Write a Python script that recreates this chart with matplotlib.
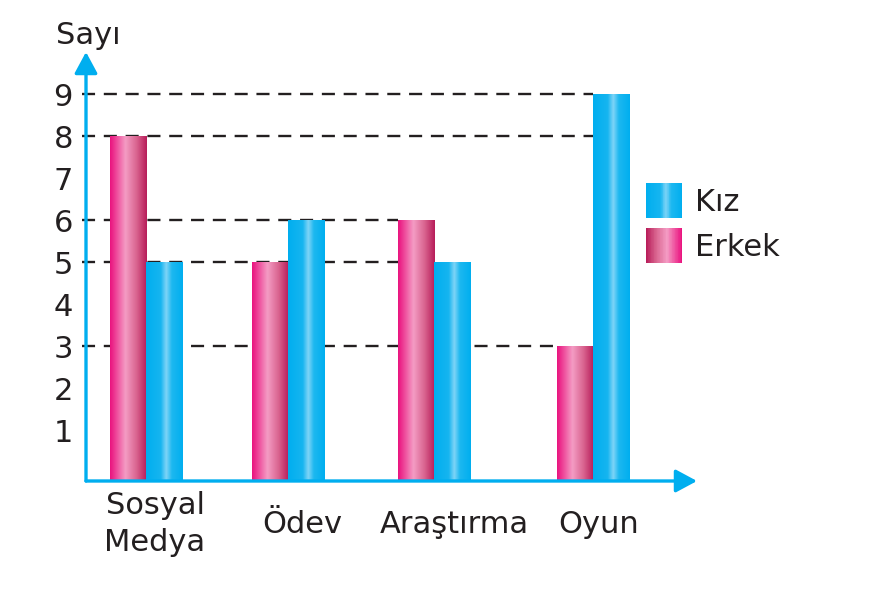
import numpy as np
import matplotlib
matplotlib.use('Agg')
import matplotlib.pyplot as plt
from matplotlib.colors import LinearSegmentedColormap
from matplotlib.patches import Rectangle, Patch, FancyArrowPatch
from matplotlib.legend_handler import HandlerBase

# ---------------- data ----------------
categories = ['Sosyal\nMedya', 'Ödev', 'Araştırma', 'Oyun']
erkek = [8, 5, 6, 3]
kiz = [5, 6, 5, 9]
yticks = [1, 2, 3, 4, 5, 6, 7, 8, 9]
series_names = ['Kız', 'Erkek']
y_label = 'Sayı'

# dashed guide lines: level -> (category index, series) whose left edge ends the line
guide_levels = [9, 8, 6, 5, 3]
guide_targets = [(3, 'kiz'), (3, 'kiz'), (2, 'erkek'), (2, 'kiz'), (3, 'erkek')]

# ---------------- layout ----------------
group_pos = np.array([0.0, 0.97, 1.97, 3.06])
label_shift = np.array([0.062, 0.098, 0.14, 0.043])
bar_w = 0.247
xlim = (-0.411, 3.774)
ylim = (-0.214, 10.0)

plt.rcParams['font.family'] = ['DejaVu Sans']
plt.rcParams['lines.scale_dashes'] = False
TXT = '#231f20'
AXC = '#00aeef'
FS = 22

pink_cmap = LinearSegmentedColormap.from_list('pink', [
    (0.0, '#e9137f'), (0.08, '#ec2a8b'), (0.42, '#f49cc4'),
    (0.72, '#d9648f'), (1.0, '#b71c59')])
pink_cmap_r = pink_cmap.reversed()
blue_cmap = LinearSegmentedColormap.from_list('blue', [
    (0.0, '#00aeef'), (0.40, '#16b5f0'), (0.55, '#7fd4f7'),
    (0.70, '#1db8f0'), (1.0, '#00aeef')])

fig = plt.figure(figsize=(8.79, 5.90), dpi=100)
ax = fig.add_axes([86 / 879, (590 - 481) / 590, (697 - 86) / 879, (481 - 52) / 590])

# bars (outline containers) + gradient fills
b0 = ylim[0]
bars_e = ax.bar(group_pos - bar_w / 2, np.array(erkek) - b0, bottom=b0, width=bar_w,
                facecolor='none', edgecolor='none', zorder=2)
bars_k = ax.bar(group_pos + bar_w / 2, np.array(kiz) - b0, bottom=b0, width=bar_w,
                facecolor='none', edgecolor='none', zorder=2)
grad = np.linspace(0, 1, 256).reshape(1, -1)
for bars, cmap in [(bars_e, pink_cmap), (bars_k, blue_cmap)]:
    for r in bars:
        x0, y0 = r.get_x(), r.get_y()
        ax.imshow(grad, cmap=cmap, extent=[x0, x0 + r.get_width(), y0, y0 + r.get_height()],
                  aspect='auto', interpolation='bilinear', zorder=2)

# dashed guides
x_start = -0.438
for lvl, (gi, s) in zip(guide_levels, guide_targets):
    rect = bars_k[gi] if s == 'kiz' else bars_e[gi]
    ax.plot([x_start, rect.get_x()], [lvl, lvl], color=TXT, lw=1.7,
            dashes=(9.4, 6.3), zorder=1, clip_on=False, solid_capstyle='butt')

ax.set_xlim(*xlim)
ax.set_ylim(*ylim)

for s in ax.spines.values():
    s.set_visible(False)

# axis arrows
for p0, p1 in [((0, 0), (1, 0)), ((0, 0), (0, 1))]:
    ar = FancyArrowPatch(p0, p1, transform=ax.transAxes,
                         arrowstyle='-|>,head_length=13,head_width=7',
                         mutation_scale=1, lw=2.4, color=AXC,
                         shrinkA=0, shrinkB=0, clip_on=False, zorder=5)
    ax.add_artist(ar)

# ticks
ax.set_yticks(yticks)
ax.set_yticklabels([str(v) for v in yticks])
ax.tick_params(axis='y', length=0, pad=9.4, labelsize=FS, labelcolor=TXT)
ax.set_xticks(group_pos + label_shift)
ax.set_xticklabels(categories)
ax.tick_params(axis='x', length=0, pad=31, labelsize=FS, labelcolor=TXT)
for lab in ax.get_xticklabels():
    lab.set_va('center')
    lab.set_multialignment('center')
    lab.set_linespacing(1.36)

fig.text(56 / 879, 1 - 44 / 590, y_label, fontsize=FS, color=TXT, ha='left', va='baseline')


class GradHandler(HandlerBase):
    def __init__(self, cmap, n=48):
        super().__init__()
        self.cmap = cmap
        self.n = n

    def create_artists(self, legend, orig_handle, xdescent, ydescent, width, height,
                       fontsize, trans):
        arts = []
        for i in range(self.n):
            c = self.cmap((i + 0.5) / self.n)
            arts.append(Rectangle((-xdescent + width * i / self.n, -ydescent),
                                  width / self.n * 1.1, height, facecolor=c,
                                  edgecolor='none', transform=trans))
        return arts


h_k = Patch(label=series_names[0])
h_e = Patch(label=series_names[1])
ax.legend(handles=[h_k, h_e], handler_map={h_k: GradHandler(blue_cmap), h_e: GradHandler(pink_cmap_r)},
          loc='upper left', bbox_to_anchor=(646 / 879, 1 - 183 / 590),
          bbox_transform=fig.transFigure, frameon=False, fontsize=FS, labelcolor=TXT,
          handlelength=1.18, handleheight=1.38, handletextpad=0.42, labelspacing=0.33,
          borderpad=0, borderaxespad=0)

fig.savefig('out.png', dpi=100)
